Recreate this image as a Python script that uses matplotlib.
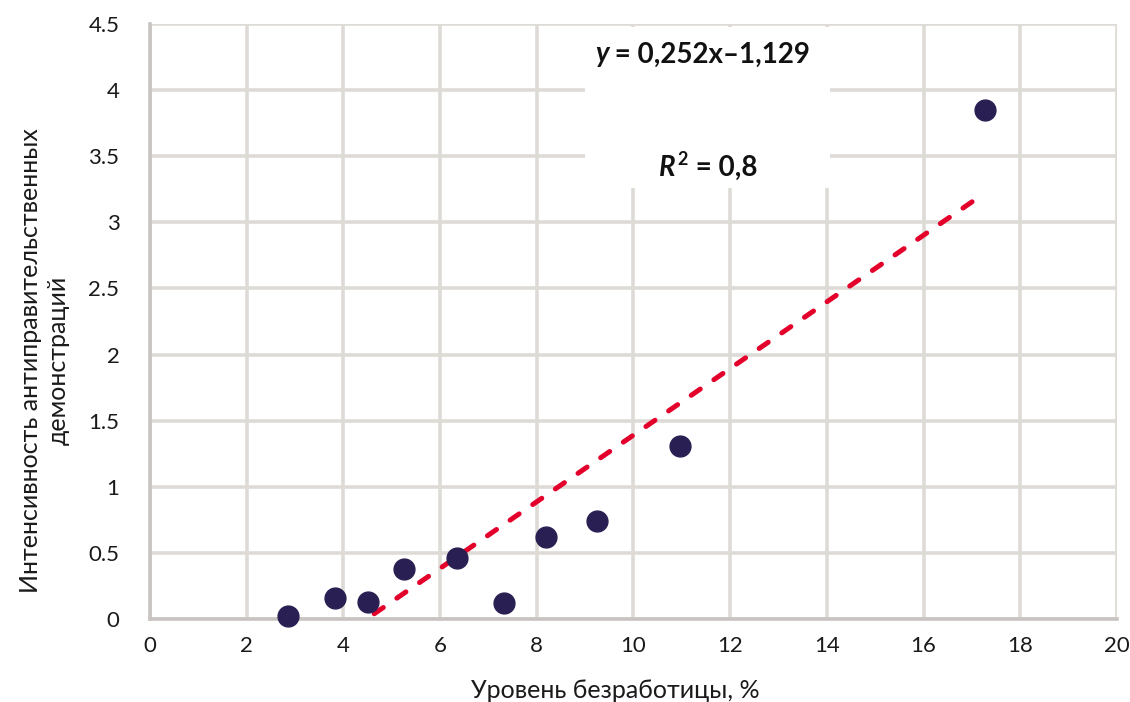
import matplotlib
matplotlib.use("Agg")
import matplotlib.pyplot as plt
from matplotlib.patches import Rectangle
import numpy as np

plt.rcParams['font.family'] = ['Lato', 'DejaVu Sans']

unemployment = [2.85, 3.83, 4.5, 5.25, 6.35, 7.33, 8.2, 9.25, 10.97, 17.27]
intensity = [0.02, 0.16, 0.13, 0.38, 0.46, 0.12, 0.62, 0.74, 1.31, 3.85]
slope, intercept = 0.252, -1.129
x_ticks = [0, 2, 4, 6, 8, 10, 12, 14, 16, 18, 20]
y_ticks = [0, 0.5, 1, 1.5, 2, 2.5, 3, 3.5, 4, 4.5]
y_tick_labels = ['0', '0.5', '1', '1.5', '2', '2.5', '3', '3.5', '4', '4.5']

fig = plt.figure(figsize=(11.3, 7.02), dpi=100)
ax = fig.add_axes([0.1327, 0.1182, 0.8558, 0.8476])

ax.set_xlim(0, 20)
ax.set_ylim(0, 4.5)
ax.set_xticks(x_ticks)
ax.set_xticklabels([str(t) for t in x_ticks])
ax.set_yticks(y_ticks)
ax.set_yticklabels(y_tick_labels)
ax.grid(True, color='#dedbd7', linewidth=2.6, zorder=0)
ax.set_axisbelow(True)
for s in ['top', 'right']:
    ax.spines[s].set_visible(False)
for s in ['left', 'bottom']:
    ax.spines[s].set_color('#c9c4c1')
    ax.spines[s].set_linewidth(2.6)
ax.tick_params(length=0, labelsize=16, colors='#1a1a1a')
ax.tick_params(axis='x', pad=12)
ax.tick_params(axis='y', pad=22)

# trend line
xl = np.array([min(unemployment), max(unemployment)])
ax.plot(xl, slope * xl + intercept, color='#e3002b', linewidth=3.6,
        linestyle=(1.0, (2.2, 3.3)), dash_capstyle='round', zorder=3)

ax.plot(unemployment, intensity, 'o', color='#2a1f52', markersize=15,
        zorder=4, clip_on=False)

# equation box
ax.add_patch(Rectangle((9.0, 3.26), 5.06, 1.22, facecolor='white',
                       edgecolor='none', zorder=2))
ax.text(9.48, 4.27, 'y', fontsize=20, fontweight='bold', fontstyle='italic',
        ha='right', va='center', zorder=5, color='#111111')
ax.text(9.48, 4.27, ' = 0,252x–1,129', fontsize=20, fontweight='bold',
        ha='left', va='center', zorder=5, color='#111111')
ax.text(10.88, 3.41, 'R', fontsize=20, fontweight='bold', fontstyle='italic',
        ha='right', va='center', zorder=5, color='#111111')
ax.annotate('2', xy=(10.88, 3.41), xytext=(1, 6), textcoords='offset points',
            fontsize=13, fontweight='bold', ha='left', va='center', zorder=5,
            color='#111111')
ax.annotate(' = 0,8', xy=(10.88, 3.41), xytext=(9, 0), textcoords='offset points',
            fontsize=20, fontweight='bold', ha='left', va='center', zorder=5,
            color='#111111')

fig.text(0.5442, 0.017, 'Уровень безработицы, %', fontsize=18, ha='center',
         va='center', color='#1a1a1a')
fig.text(0.0390, 0.487, 'Интенсивность антиправительственных\nдемонстраций',
         fontsize=18, rotation=90, ha='center', va='center', color='#1a1a1a',
         linespacing=1.25, multialignment='center')

fig.savefig('out.png', dpi=100)
